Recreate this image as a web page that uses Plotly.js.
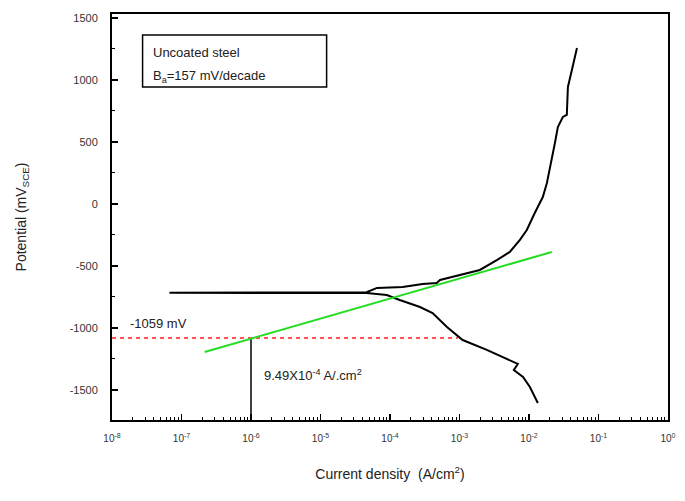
<!DOCTYPE html>
<html>
<head>
<meta charset="utf-8">
<script src="https://cdn.plot.ly/plotly-3.0.1.min.js"></script>
<style>html,body{margin:0;padding:0;background:#fff;}#chart{width:685px;height:501px;}</style>
</head>
<body>
<div id="chart"></div>
<script>
// Polarization curve (current density A/cm2, potential mV)
const curveCurrent = [1.34e-2, 1.03e-2, 8.2e-3, 6.05e-3, 6.9e-3, 4.2e-3, 2.47e-3, 1.11e-3, 6.6e-4, 4.1e-4, 2.7e-4, 1.38e-4, 9.0e-5, 4.6e-5,
  5.8e-7, 6.7e-8, 5.8e-7, 4.6e-5, 6.5e-5, 1.52e-4, 2.95e-4, 4.7e-4, 5.25e-4, 1.01e-3, 1.96e-3, 3.44e-3, 5.3e-3, 7.4e-3, 9.3e-3,
  1.21e-2, 1.58e-2, 1.81e-2, 2.13e-2, 2.36e-2, 2.6e-2, 3.07e-2, 3.5e-2, 3.63e-2, 4.14e-2, 4.57e-2, 4.9e-2];
const curvePotential = [-1605, -1476, -1395, -1339, -1290, -1234, -1177, -1097, -992, -879, -831, -774, -734, -718,
  -718, -716, -712, -712, -677, -669, -645, -637, -613, -573, -532, -452, -387, -290, -210,
  -73, 56, 169, 355, 492, 621, 702, 718, 944, 1081, 1185, 1258];
// Tafel fit line
const tafelCurrent = [2.15e-7, 2.13e-2];
const tafelPotential = [-1194, -387];
// Corrosion construction lines
const dashCurrent = [1e-8, 9.49e-4];
const dashPotential = [-1081, -1081];
const dropCurrent = [1e-6, 1e-6];
const dropPotential = [-1081, -1742];
// Axis ticks
const xTickVals = [1e-8, 1e-7, 1e-6, 1e-5, 1e-4, 1e-3, 1e-2, 1e-1, 1];
const xTickText = ['10<sup>-8</sup>', '10<sup>-7</sup>', '10<sup>-6</sup>', '10<sup>-5</sup>', '10<sup>-4</sup>', '10<sup>-3</sup>', '10<sup>-2</sup>', '10<sup>-1</sup>', '10<sup>0</sup>'];
const yTickVals = [-1500, -1000, -500, 0, 500, 1000, 1500];
const yTickText = ['-1500', '-1000', '-500', '0', '500', '1000', '1500'];

const font = 'Liberation Sans, Arial, sans-serif';
const traces = [
  {x: dashCurrent, y: dashPotential, mode: 'lines', line: {color: '#ff1a1a', width: 1.6, dash: '4px,4px'}, hoverinfo: 'skip'},
  {x: dropCurrent, y: dropPotential, mode: 'lines', line: {color: '#000', width: 1.5}, hoverinfo: 'skip'},
  {x: curveCurrent, y: curvePotential, mode: 'lines', line: {color: '#000', width: 2}},
  {x: tafelCurrent, y: tafelPotential, mode: 'lines', line: {color: '#22dd22', width: 2}}
];

const layout = {
  width: 685, height: 501,
  margin: {l: 112, r: 17, t: 14, b: 81},
  paper_bgcolor: '#fff', plot_bgcolor: '#fff',
  showlegend: false,
  font: {family: font, color: '#222', size: 11},
  xaxis: {
    type: 'log', range: [-8, 0],
    tickvals: xTickVals, ticktext: xTickText,
    ticks: 'inside', ticklen: 6, tickwidth: 1.2, tickcolor: '#000',
    minor: {dtick: 'D1', ticks: 'inside', ticklen: 3, tickcolor: '#000', tickwidth: 1},
    showline: true, linecolor: '#000', linewidth: 2, mirror: true,
    showgrid: false, zeroline: false,
    ticklabelstandoff: 8,
    tickfont: {size: 10, color: '#333'},
    title: {text: 'Current density  (A/cm<sup>2</sup>)', font: {size: 14, color: '#222'}, standoff: 26}
  },
  yaxis: {
    range: [-1742, 1532],
    tickvals: yTickVals, ticktext: yTickText,
    ticks: 'inside', ticklen: 6, tickwidth: 1.2, tickcolor: '#000',
    minor: {dtick: 250, ticks: 'inside', ticklen: 3, tickcolor: '#000', tickwidth: 1},
    showline: true, linecolor: '#000', linewidth: 2, mirror: true,
    showgrid: false, zeroline: false,
    ticklabelstandoff: 10,
    tickfont: {size: 11, color: '#333'},
    title: {text: 'Potential (mV<sub>SCE</sub>)', font: {size: 14, color: '#222'}, standoff: 40}
  },
  shapes: [
    {type: 'rect', xref: 'paper', yref: 'paper', x0: 0.055, x1: 0.386, y0: 0.82, y1: 0.948, line: {color: '#000', width: 1.5}, fillcolor: 'rgba(0,0,0,0)'}
  ],
  annotations: [
    {xref: 'paper', yref: 'paper', x: 0.07, y: 0.905, xanchor: 'left', yanchor: 'middle', showarrow: false, text: 'Uncoated steel', font: {size: 13, color: '#222'}},
    {xref: 'paper', yref: 'paper', x: 0.07, y: 0.845, xanchor: 'left', yanchor: 'middle', showarrow: false, text: 'B<sub>a</sub>=157 mV/decade', font: {size: 13, color: '#222'}},
    {xref: 'paper', yref: 'paper', x: 0.028, y: 0.238, xanchor: 'left', yanchor: 'middle', showarrow: false, text: '-1059 mV', font: {size: 13, color: '#222'}},
    {xref: 'paper', yref: 'paper', x: 0.269, y: 0.11, xanchor: 'left', yanchor: 'middle', showarrow: false, text: '9.49X10<sup>-4</sup> A/.cm<sup>2</sup>', font: {size: 13, color: '#222'}}
  ]
};

Plotly.newPlot('chart', traces, layout, {displayModeBar: false, staticPlot: true});
</script>
</body>
</html>
